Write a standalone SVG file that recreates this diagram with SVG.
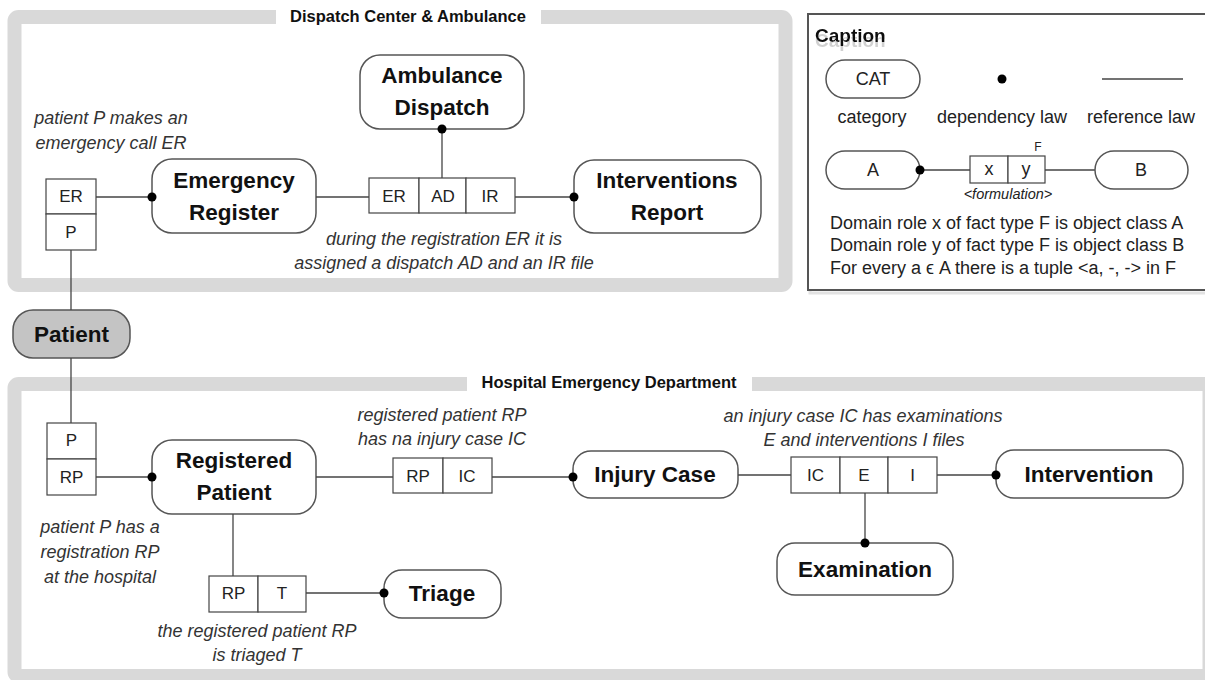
<svg xmlns="http://www.w3.org/2000/svg" width="1205" height="680" viewBox="0 0 1205 680">
  <defs>
    <style>
      .frame { fill: none; stroke: #d9d9d9; stroke-width: 14; }
      .gap { fill: #ffffff; }
      .title { font-family: "Liberation Sans", Arial, sans-serif; font-weight: bold; font-size: 16.5px; fill: #111; text-anchor: middle; }
      .node { fill: #ffffff; stroke: #555; stroke-width: 1.5; }
      .node.dark { fill: #c4c4c4; }
      .lbl { font-family: "Liberation Sans", Arial, sans-serif; font-weight: bold; font-size: 22.5px; fill: #111; text-anchor: middle; }
      .cell { fill: #ffffff; stroke: #444; stroke-width: 1.2; }
      .ct { font-family: "Liberation Sans", Arial, sans-serif; font-size: 17px; fill: #222; text-anchor: middle; }
      .note { font-family: "Liberation Sans", Arial, sans-serif; font-style: italic; font-size: 18px; fill: #333; text-anchor: middle; }
      .conn line { stroke: #444; stroke-width: 1.3; }
      .dot { fill: #000; }
      .cap { font-family: "Liberation Sans", Arial, sans-serif; font-size: 18px; fill: #222; }
      .capc { text-anchor: middle; }
    </style>
    <filter id="ghost" x="-10%" y="-10%" width="120%" height="160%">
      <feOffset in="SourceAlpha" dy="5" result="off"/>
      <feFlood flood-color="#d0d0d0"/>
      <feComposite in2="off" operator="in" result="sh"/>
      <feMerge><feMergeNode in="sh"/><feMergeNode in="SourceGraphic"/></feMerge>
    </filter>
  </defs>

  <rect width="1205" height="680" fill="#ffffff"/>

  <!-- swimlane: dispatch center -->
  <g id="lane-dispatch">
    <rect class="frame" x="14.5" y="17" width="771" height="268" rx="4"/>
    <rect class="gap" x="276" y="6" width="265" height="22"/>
    <text class="title" x="408" y="22">Dispatch Center &amp; Ambulance</text>
  </g>

  <!-- swimlane: hospital -->
  <g id="lane-hospital">
    <rect class="frame" x="14.5" y="384" width="1195" height="292" rx="4"/>
    <rect class="gap" x="467" y="374" width="285" height="20"/>
    <text class="title" x="609" y="388">Hospital Emergency Department</text>
  </g>

  <!-- categories -->
  <g id="ambulance-dispatch">
    <rect class="node" x="360" y="55" width="164" height="74" rx="20"/>
    <text class="lbl" x="442" y="83">Ambulance</text>
    <text class="lbl" x="442" y="115">Dispatch</text>
  </g>
  <g id="emergency-register">
    <rect class="node" x="152" y="159" width="164" height="74" rx="20"/>
    <text class="lbl" x="234" y="188">Emergency</text>
    <text class="lbl" x="234" y="220">Register</text>
  </g>
  <g id="interventions-report">
    <rect class="node" x="574" y="160" width="187" height="73" rx="20"/>
    <text class="lbl" x="667" y="188">Interventions</text>
    <text class="lbl" x="667" y="220">Report</text>
  </g>
  <g id="patient">
    <rect class="node dark" x="13" y="310" width="117" height="48" rx="20"/>
    <text class="lbl" x="71.5" y="342">Patient</text>
  </g>
  <g id="registered-patient">
    <rect class="node" x="152" y="440" width="164" height="74" rx="20"/>
    <text class="lbl" x="234" y="468">Registered</text>
    <text class="lbl" x="234" y="500">Patient</text>
  </g>
  <g id="injury-case">
    <rect class="node" x="573" y="451" width="165" height="47" rx="18"/>
    <text class="lbl" x="655" y="482">Injury Case</text>
  </g>
  <g id="intervention">
    <rect class="node" x="996" y="450" width="187" height="48" rx="18"/>
    <text class="lbl" x="1089" y="482">Intervention</text>
  </g>
  <g id="examination">
    <rect class="node" x="777" y="543" width="176" height="52" rx="18"/>
    <text class="lbl" x="865" y="577">Examination</text>
  </g>
  <g id="triage">
    <rect class="node" x="384" y="570" width="117" height="48" rx="18"/>
    <text class="lbl" x="442" y="601">Triage</text>
  </g>

  <!-- fact types -->
  <g id="fact-er-p">
    <rect class="cell" x="46" y="179" width="50" height="35"/>
    <rect class="cell" x="46" y="214" width="50" height="36"/>
    <text class="ct" x="71" y="202">ER</text>
    <text class="ct" x="71" y="238">P</text>
    <text class="note" x="111" y="124">patient P makes an</text>
    <text class="note" x="111" y="149">emergency call ER</text>
  </g>
  <g id="fact-er-ad-ir">
    <rect class="cell" x="369" y="178" width="50" height="35"/>
    <rect class="cell" x="419" y="178" width="47" height="35"/>
    <rect class="cell" x="466" y="178" width="49" height="35"/>
    <text class="ct" x="394" y="202">ER</text>
    <text class="ct" x="443" y="202">AD</text>
    <text class="ct" x="490" y="202">IR</text>
    <text class="note" x="444" y="245">during the registration ER it is</text>
    <text class="note" x="444" y="269">assigned a dispatch AD and an IR file</text>
  </g>
  <g id="fact-p-rp">
    <rect class="cell" x="47" y="423" width="49" height="36"/>
    <rect class="cell" x="47" y="459" width="49" height="36"/>
    <text class="ct" x="71.5" y="446">P</text>
    <text class="ct" x="71.5" y="483">RP</text>
    <text class="note" x="100" y="533">patient P has a</text>
    <text class="note" x="100" y="558">registration RP</text>
    <text class="note" x="100" y="583">at the hospital</text>
  </g>
  <g id="fact-rp-ic">
    <rect class="cell" x="393" y="458" width="50" height="35"/>
    <rect class="cell" x="443" y="458" width="49" height="35"/>
    <text class="ct" x="418" y="482">RP</text>
    <text class="ct" x="467" y="482">IC</text>
    <text class="note" x="442" y="421">registered patient RP</text>
    <text class="note" x="442" y="445">has na injury case IC</text>
  </g>
  <g id="fact-rp-t">
    <rect class="cell" x="209" y="576" width="49" height="36"/>
    <rect class="cell" x="258" y="576" width="48" height="36"/>
    <text class="ct" x="233.5" y="599">RP</text>
    <text class="ct" x="282" y="599">T</text>
    <text class="note" x="257" y="637">the registered patient RP</text>
    <text class="note" x="257" y="661">is triaged T</text>
  </g>
  <g id="fact-ic-e-i">
    <rect class="cell" x="791" y="457" width="49" height="36"/>
    <rect class="cell" x="840" y="457" width="48" height="36"/>
    <rect class="cell" x="888" y="457" width="49" height="36"/>
    <text class="ct" x="815.5" y="481">IC</text>
    <text class="ct" x="864" y="481">E</text>
    <text class="ct" x="912.5" y="481">I</text>
    <text class="note" x="863" y="422">an injury case IC has examinations</text>
    <text class="note" x="864" y="446">E and interventions I files</text>
  </g>

  <!-- connectors: reference lines with dependency dots on top of the nodes -->
  <g id="connectors" class="conn">
    <line x1="96" y1="197" x2="152" y2="197"/>
    <line x1="316" y1="197" x2="369" y2="197"/>
    <line x1="515" y1="197" x2="574" y2="197"/>
    <line x1="442" y1="178" x2="442" y2="129"/>
    <line x1="71" y1="250" x2="71" y2="310"/>
    <line x1="71" y1="358" x2="71" y2="423"/>
    <line x1="96" y1="477" x2="152" y2="477"/>
    <line x1="316" y1="477" x2="393" y2="477"/>
    <line x1="492" y1="477" x2="573" y2="477"/>
    <line x1="738" y1="475" x2="791" y2="475"/>
    <line x1="937" y1="475" x2="996" y2="475"/>
    <line x1="865" y1="493" x2="865" y2="543"/>
    <line x1="233" y1="514" x2="233" y2="576"/>
    <line x1="306" y1="593" x2="384" y2="593"/>
    <circle class="dot" cx="152" cy="197" r="4.5"/>
    <circle class="dot" cx="574" cy="197" r="4.5"/>
    <circle class="dot" cx="442" cy="129" r="4.5"/>
    <circle class="dot" cx="152" cy="477" r="4.5"/>
    <circle class="dot" cx="573" cy="477" r="4.5"/>
    <circle class="dot" cx="996" cy="475" r="4.5"/>
    <circle class="dot" cx="865" cy="543" r="4.5"/>
    <circle class="dot" cx="384" cy="593" r="4.5"/>
  </g>

  <!-- legend -->
  <g id="caption">
    <rect x="810" y="17" width="400" height="276" fill="none" stroke="#e2e2e2" stroke-width="3"/>
    <rect x="808" y="14" width="400" height="276" fill="#ffffff" stroke="#555" stroke-width="2"/>
    <text x="815" y="42" filter="url(#ghost)" style="font-family:'Liberation Sans',Arial,sans-serif;font-weight:bold;font-size:19px;fill:#111">Caption</text>
    <rect class="node" x="826" y="60" width="94" height="38" rx="19"/>
    <text class="cap capc" x="873" y="85">CAT</text>
    <circle class="dot" cx="1002" cy="79" r="4.5"/>
    <line x1="1102" y1="79" x2="1183" y2="79" stroke="#444" stroke-width="1.3"/>
    <text class="cap capc" x="872" y="123">category</text>
    <text class="cap capc" x="1002" y="123">dependency law</text>
    <text class="cap capc" x="1141" y="123">reference law</text>
    <line x1="920" y1="170" x2="970" y2="170" stroke="#444" stroke-width="1.3"/>
    <line x1="1045" y1="170" x2="1095" y2="170" stroke="#444" stroke-width="1.3"/>
    <rect class="node" x="826" y="151" width="94" height="38" rx="19"/>
    <rect class="node" x="1095" y="151" width="93" height="38" rx="19"/>
    <circle class="dot" cx="920" cy="170" r="4.5"/>
    <text class="cap capc" x="873" y="176">A</text>
    <text class="cap capc" x="1141" y="176">B</text>
    <rect class="cell" x="970" y="156" width="38" height="27"/>
    <rect class="cell" x="1008" y="156" width="37" height="27"/>
    <text class="cap capc" x="989" y="175">x</text>
    <text class="cap capc" x="1026" y="175">y</text>
    <text class="cap capc" x="1038" y="151" style="font-size:12px">F</text>
    <text class="cap capc" x="1008" y="199" style="font-size:14.5px;font-style:italic">&lt;formulation&gt;</text>
    <text class="cap" x="830" y="229">Domain role x of fact type F is object class A</text>
    <text class="cap" x="830" y="251">Domain role y of fact type F is object class B</text>
    <text class="cap" x="830" y="274">For every a ϵ A there is a tuple &lt;a, -, -&gt; in F</text>
  </g>
</svg>
